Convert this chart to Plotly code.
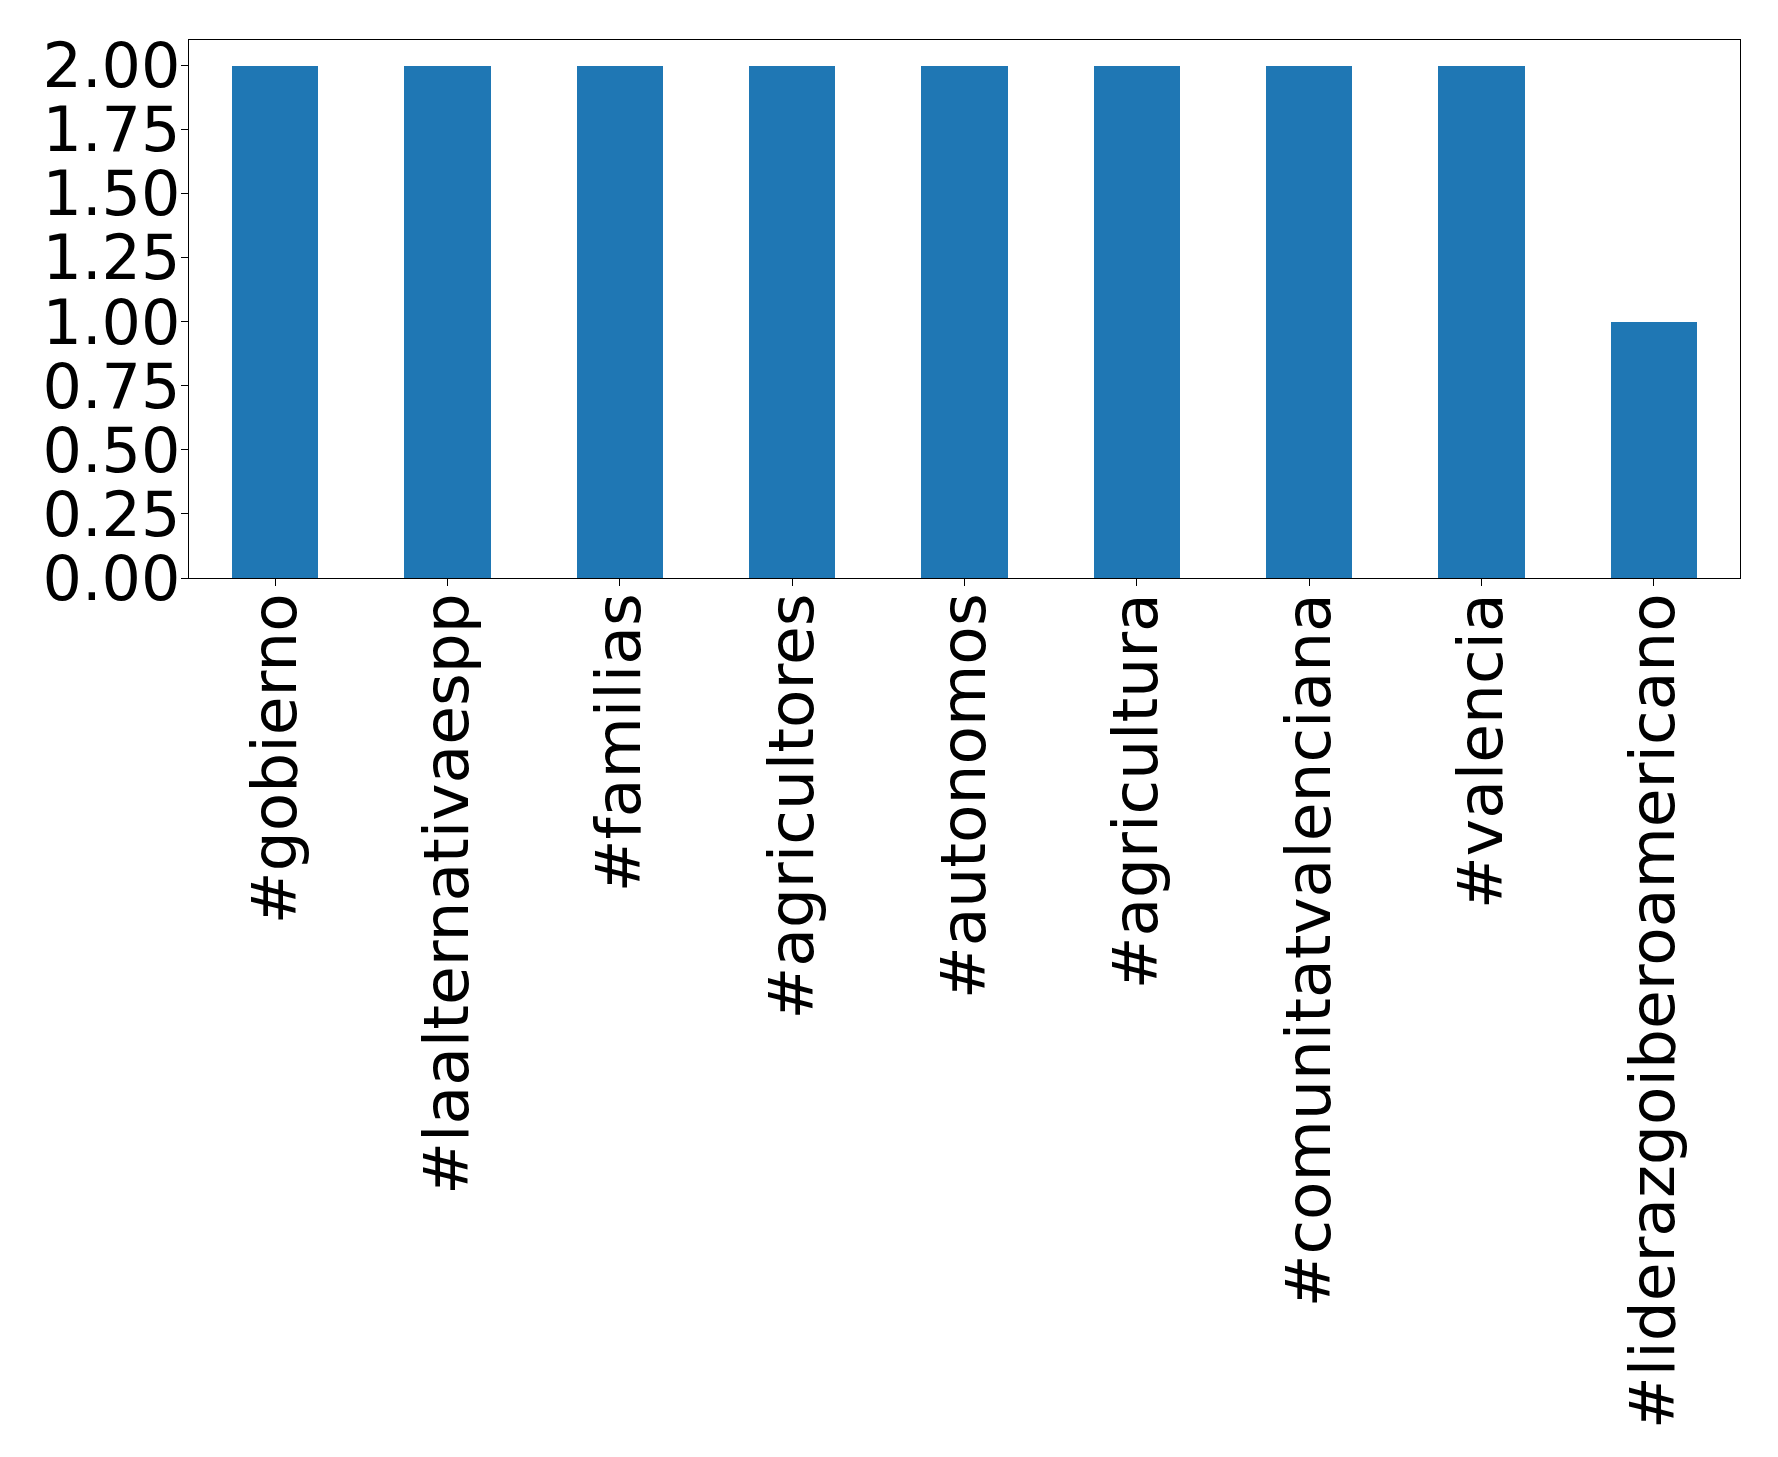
import plotly.graph_objects as go

categories = ["#gobierno", "#laalternativaespp", "#familias", "#agricultores", "#autonomos",
              "#agricultura", "#comunitatvalenciana", "#valencia", "#liderazgoiberoamericano"]
values = [2, 2, 2, 2, 2, 2, 2, 2, 1]
y_ticks = [0, 0.25, 0.5, 0.75, 1.0, 1.25, 1.5, 1.75, 2.0]
y_ticktext = ["0.00", "0.25", "0.50", "0.75", "1.00", "1.25", "1.50", "1.75", "2.00"]

fig = go.Figure(go.Bar(x=categories, y=values, marker_color="#1f77b4", width=0.5,
                       marker_line_width=0))

fig.update_layout(
    width=1778, height=1457,
    margin=dict(l=181, r=46, t=32, b=887),
    plot_bgcolor="white", paper_bgcolor="white",
    font=dict(family="DejaVu Sans", size=62, color="black"),
    showlegend=False,
    bargap=0,
)
fig.update_xaxes(
    range=[-0.5, 8.5], tickangle=-90, showline=True, linecolor="black", linewidth=1.2,
    mirror=True, ticks="outside", ticklen=7, tickcolor="black", showgrid=False,
    tickfont=dict(size=63, family="DejaVu Sans"), ticklabelstandoff=-18,
)
fig.update_yaxes(
    range=[0, 2.1], tickvals=y_ticks, ticktext=y_ticktext, showline=True, linecolor="black",
    linewidth=1.2, mirror=True, ticks="outside", ticklen=7, tickcolor="black", showgrid=False,
    zeroline=False, tickfont=dict(size=62, family="DejaVu Sans"), ticklabelstandoff=-12,
)

fig.write_html("out.html")
